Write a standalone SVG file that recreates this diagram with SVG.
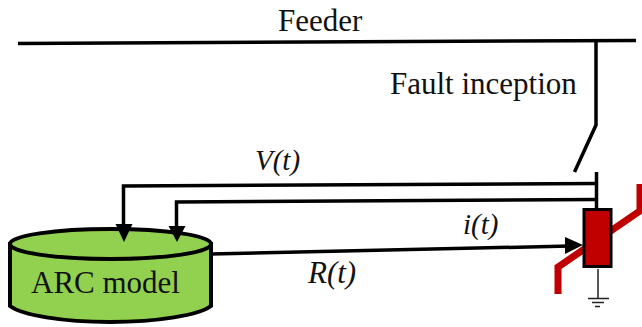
<svg xmlns="http://www.w3.org/2000/svg" width="642" height="327" viewBox="0 0 642 327">
<style>
.t{font-family:"Liberation Serif",serif;font-size:31px;fill:#111}
.i{font-style:italic;font-size:29px}
.w{fill:none;stroke:#000;stroke-width:3.500}
.h{fill:#000}
</style>
<rect width="642" height="327" fill="#fff"/>
<g id="arc-model">
<path d="M10 244V306C22 315 62 322 110 322C158 322 199 315 211 306V244Z" fill="#92d050" stroke="#000" stroke-width="4"/>
<ellipse cx="110.500" cy="244" rx="100.500" ry="15" fill="#92d050" stroke="#000" stroke-width="4"/>
<text class="t" x="31" y="293">ARC model</text>
</g>
<g id="arrester">
<path d="M558 294V267L640 211V184" fill="none" stroke="#c00000" stroke-width="7"/>
<rect x="584" y="209.500" width="27" height="57" fill="#c00000" stroke="#000" stroke-width="3"/>
</g>
<g id="connectors">
<path class="w" d="M18 43.500L636 40.500"/>
<path class="w" d="M596 41V125L574.500 172"/>
<path class="w" d="M596.500 172V209"/>
<path class="w" d="M596 183.500L123.500 186V228"/>
<path class="w" d="M596 199.500L176.500 202V228"/>
<path class="w" d="M211 254L570 246"/>
<polygon class="h" points="115.500,224 132.500,224 124,242"/>
<polygon class="h" points="168.500,226 185.500,226 177,242"/>
<polygon class="h" points="565,237 583,245 565,254"/>
<path fill="none" stroke="#222" stroke-width="1.500" d="M598 269V298M588 298.500H609M592 302.500H604M595 306.500H600"/>
</g>
<g id="labels">
<text class="t" x="278" y="31">Feeder</text>
<text class="t" x="390" y="94">Fault inception</text>
<text class="t i" x="255" y="170">V(t)</text>
<text class="t i" x="463" y="234">i(t)</text>
<text class="t i" x="308" y="283" style="font-size:31px">R(t)</text>
</g>
</svg>
